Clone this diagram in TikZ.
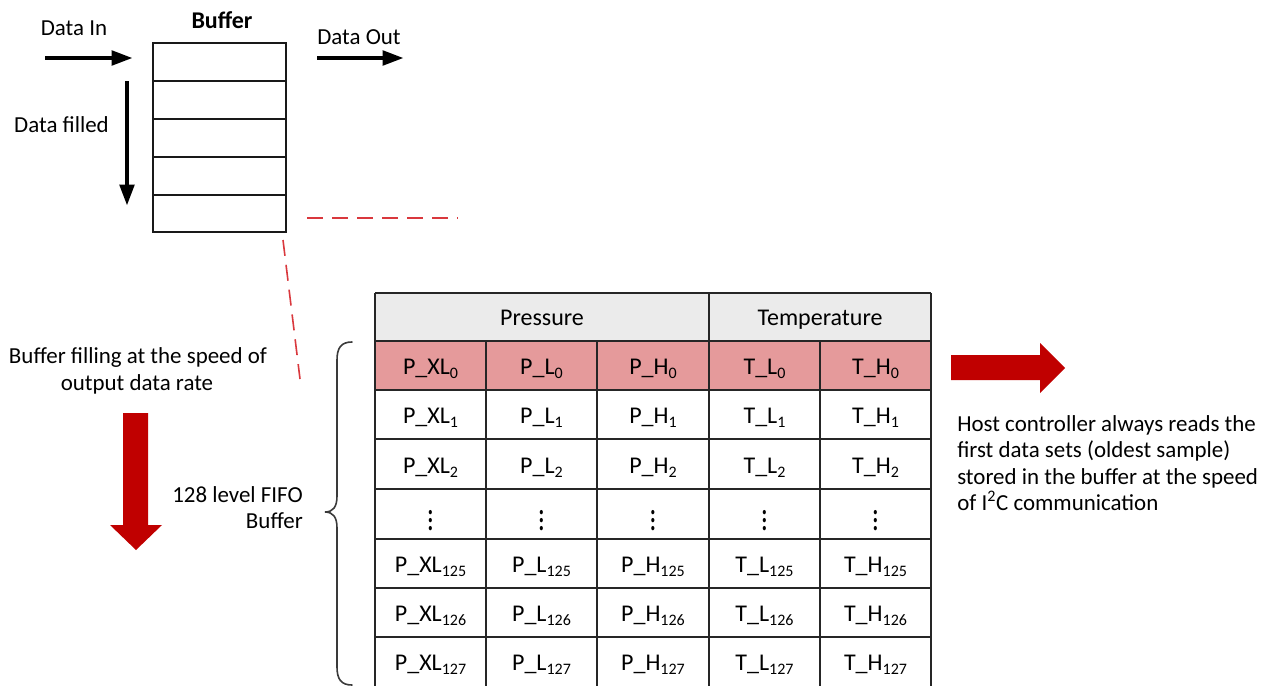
\documentclass[tikz,border=0pt]{standalone}
\usepackage{fontspec}
\setmainfont{Carlito}
\usetikzlibrary{arrows.meta}
\definecolor{hdrgray}{HTML}{EBEBEB}
\definecolor{rowpink}{HTML}{E59A9B}
\definecolor{darkred}{HTML}{C00000}
\definecolor{dashred}{HTML}{D9383D}
\definecolor{bracegray}{HTML}{3A3A3A}
\newcommand{\mysub}[1]{\raisebox{-3.2pt}{\fontsize{12}{12}\selectfont #1}}
\begin{document}
\begin{tikzpicture}[x=0.75pt,y=-0.75pt,
  lbl/.style={font=\fontsize{17.2}{20}\selectfont, inner sep=0pt, anchor=base},
  celltext/.style={font=\fontsize{18}{20}\selectfont, inner sep=0pt, anchor=base},
  blkarrow/.style={line width=3.6pt, -{Triangle[length=16pt,width=10.5pt]}},
  reddashed/.style={draw=dashred, line width=1.2pt, dash pattern=on 12pt off 6.75pt},
  gridline/.style={line width=0.9pt, draw=black!85},
  bigred/.style={fill=darkred, draw=none}]
\useasboundingbox (0,0) rectangle (1270,686);

% ---------- buffer ----------
\draw[line width=1.6pt, draw=black!90] (153,43) rectangle (286,232);
\foreach \yy in {81,119,157,195} \draw[line width=1.6pt, draw=black!90] (153,\yy) -- (286,\yy);
\node[lbl, font=\fontsize{18}{20}\selectfont\bfseries] (buftitle) at (222,28) {Buffer};
\node[lbl] (datain) at (74,35) {Data In};
\node[lbl] (dataout) at (359,44) {Data Out};
\node[lbl] (datafilled) at (61.5,132) {Data filled};

\coordinate (inA) at (45,58);   \coordinate (inB) at (133,58);
\coordinate (outA) at (317,58); \coordinate (outB) at (404,58);
\coordinate (dnA) at (127,81);  \coordinate (dnB) at (127,206);
\draw[blkarrow] (inA) -- (inB);
\draw[blkarrow] (outA) -- (outB);
\draw[blkarrow] (dnA) -- (dnB);

% ---------- dashed zoom lines ----------
\coordinate (dhA) at (307,218); \coordinate (dhB) at (458,218);
\coordinate (ddA) at (283,240); \coordinate (ddB) at (300,379);
\draw[reddashed] (dhA) -- (dhB);
\draw[reddashed] (ddA) -- (ddB);

% ---------- table ----------
\fill[hdrgray] (375,293) rectangle (931,341);
\fill[rowpink] (375,341) rectangle (931,390);
\foreach \yy in {293,341,390,439,489,539,588,637}
  \draw[gridline] (375,\yy) -- (931,\yy);
\foreach \xx in {375,709,931}
  \draw[gridline] (\xx,293) -- (\xx,686);
\foreach \xx in {486,597,820}
  \draw[gridline] (\xx,341) -- (\xx,686);

\node[celltext] (hP) at (542,325) {Pressure};
\node[celltext] (hT) at (820,325) {Temperature};

\foreach \rr/\yc in {0/365.5,1/414.5,2/464,125/563.5,126/612.5,127/661.5}{
  \node[celltext] (pxl\rr) at (430.5,\yc+9) {P\_XL\mysub{\rr}};
  \node[celltext] (pl\rr)  at (541.5,\yc+9) {P\_L\mysub{\rr}};
  \node[celltext] (ph\rr)  at (653,\yc+9)   {P\_H\mysub{\rr}};
  \node[celltext] (tl\rr)  at (764.5,\yc+9) {T\_L\mysub{\rr}};
  \node[celltext] (th\rr)  at (875.5,\yc+9) {T\_H\mysub{\rr}};
}
\foreach \xc/\nm in {430.5/a,541.5/b,653/c,764.5/d,875.5/e}
  \node[font=\fontsize{18}{20}\selectfont, inner sep=0pt] (dots\nm) at (\xc,515) {\scalebox{1.1}[1.5]{$\vdots$}};

% ---------- brace ----------
\draw[line width=1.2pt, draw=bracegray, line cap=round]
  (352,342) .. controls (341,342) and (337,348) .. (337,360)
  -- (337,496) .. controls (337,507) and (333,512) .. (325,512)
  .. controls (333,512) and (337,517) .. (337,528)
  -- (337,667) .. controls (337,679) and (341,685) .. (352,685);

% ---------- left texts and red arrow ----------
\node[lbl] (fill1) at (138,363) {Buffer filling at the speed of};
\node[lbl] (fill2) at (137,390) {output data rate};
\node[lbl, anchor=base east] (fifo1) at (303,502) {128 level FIFO};
\node[lbl, anchor=base east] (fifo2) at (303,528) {Buffer};
\fill[bigred] (123,413) -- (148,413) -- (148,525) -- (162,525) -- (136,550) -- (110,525) -- (123,525) -- cycle;

% ---------- right arrow and text ----------
\fill[bigred] (951,355) -- (1040,355) -- (1040,343) -- (1065,368) -- (1040,393) -- (1040,380) -- (951,380) -- cycle;
\node[lbl, anchor=base west] (host1) at (957,431) {Host controller always reads the};
\node[lbl, anchor=base west] (host2) at (957,457) {first data sets (oldest sample)};
\node[lbl, anchor=base west] (host3) at (957,484) {stored in the buffer at the speed};
\node[lbl, anchor=base west] (host4) at (957,510) {of I\textsuperscript{2}C communication};
\end{tikzpicture}
\end{document}
